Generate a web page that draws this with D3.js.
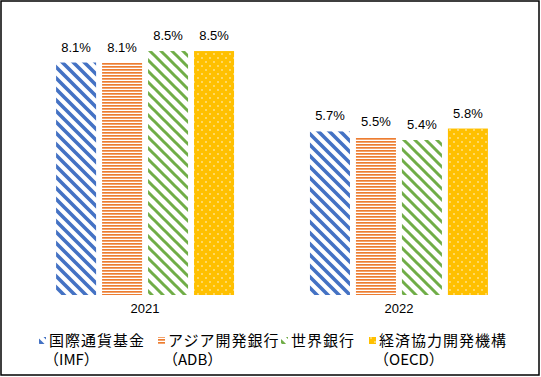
<!DOCTYPE html>
<html>
<head>
<meta charset="utf-8">
<script src="https://cdn.jsdelivr.net/npm/d3@7"></script>
<style>
    body { margin: 0; background: #fff; }
    .label { font-family: "Liberation Sans", Arial, sans-serif; font-size: 13px; fill: #000; }
    .legend-text { font-family: "Noto Sans CJK JP", sans-serif; font-size: 15px; fill: #000; }
</style>
</head>
<body>
<div id="chart"></div>
<script>
// data
const years = ["2021", "2022"];
const series = ["国際通貨基金", "アジア開発銀行", "世界銀行", "経済協力開発機構"];
const seriesSub = ["（IMF）", "（ADB）", "", "（OECD）"];
const values2021 = [8.1, 8.1, 8.5, 8.5];
const values2022 = [5.7, 5.5, 5.4, 5.8];
const colors = ["#4472C4", "#ED7D31", "#70AD47", "#FFC000"];

const W = 541, H = 377;
const data = [];
years.forEach((yr, i) => {
    const vals = i === 0 ? values2021 : values2022;
    series.forEach((s, j) => data.push({year: yr, idx: j, value: vals[j]}));
});

const svg = d3.select("#chart").append("svg")
    .attr("width", W)
    .attr("height", H);

// patterns
const defs = svg.append("defs");

// blue: wide downward diagonal
let p = defs.append("pattern").attr("id", "pat0")
    .attr("patternUnits", "userSpaceOnUse").attr("width", 11).attr("height", 11);
p.append("rect").attr("width", 11).attr("height", 11).attr("fill", "#fff");
p.append("path").attr("d", "M-3,-3L14,14M-3,8L3,14M8,-3L14,3")
    .attr("stroke", colors[0]).attr("stroke-width", 3.6);

// orange: horizontal lines
p = defs.append("pattern").attr("id", "pat1")
    .attr("patternUnits", "userSpaceOnUse").attr("width", 6).attr("height", 3);
p.append("rect").attr("width", 6).attr("height", 3).attr("fill", "#fff");
p.append("rect").attr("y", 0).attr("width", 6).attr("height", 1.7).attr("fill", colors[1]);

// green: downward diagonal
p = defs.append("pattern").attr("id", "pat2")
    .attr("patternUnits", "userSpaceOnUse").attr("width", 11).attr("height", 11);
p.append("rect").attr("width", 11).attr("height", 11).attr("fill", "#fff");
p.append("path").attr("d", "M-3,-3L14,14M-3,8L3,14M8,-3L14,3")
    .attr("stroke", colors[2]).attr("stroke-width", 3);

// yellow: dotted
p = defs.append("pattern").attr("id", "pat3")
    .attr("patternUnits", "userSpaceOnUse").attr("width", 8).attr("height", 8);
p.append("rect").attr("width", 8).attr("height", 8).attr("fill", colors[3]);
p.append("circle").attr("cx", 2).attr("cy", 2).attr("r", 0.8).attr("fill", "#fff8e0");
p.append("circle").attr("cx", 6).attr("cy", 6).attr("r", 0.8).attr("fill", "#fff8e0");

// frame
svg.append("rect")
    .attr("x", 1).attr("y", 1)
    .attr("width", W - 3).attr("height", H - 3)
    .attr("fill", "#fff")
    .attr("stroke", "#000")
    .attr("stroke-width", 1.5);

// scales
const x0 = d3.scaleBand()
    .domain(years)
    .range([18, 526])
    .paddingInner(0.299)
    .paddingOuter(0.15);

const x1 = d3.scaleBand()
    .domain(d3.range(series.length))
    .range([0, x0.bandwidth()])
    .paddingInner(0.13)
    .paddingOuter(0);

const y = d3.scaleLinear()
    .domain([0, 9])
    .range([295, 36.7]);

// bars
const g = svg.append("g");
g.selectAll(".bar")
    .data(data)
    .enter()
    .append("rect")
    .attr("class", "bar")
    .attr("x", d => x0(d.year) + x1(d.idx))
    .attr("y", d => y(d.value))
    .attr("width", x1.bandwidth())
    .attr("height", d => y(0) - y(d.value))
    .attr("fill", d => "url(#pat" + d.idx + ")");

// value labels
g.selectAll(".label")
    .data(data)
    .enter()
    .append("text")
    .attr("class", "label")
    .attr("x", d => x0(d.year) + x1(d.idx) + x1.bandwidth() / 2)
    .attr("y", d => y(d.value) - 11)
    .attr("text-anchor", "middle")
    .text(d => d.value.toFixed(1) + "%");

// category labels
const xAxis = d3.axisBottom(x0).tickSize(0).tickPadding(9);
const ax = svg.append("g")
    .attr("transform", "translate(0," + y(0) + ")")
    .call(xAxis);
ax.select(".domain").remove();
ax.selectAll("text")
    .attr("class", "label")
    .attr("font-family", null)
    .attr("font-size", null);

// legend
const legendX = [39, 158, 281, 369];
const legend = svg.append("g");
series.forEach((s, i) => {
    const lg = legend.append("g").attr("transform", "translate(" + legendX[i] + ",0)");
    lg.append("rect")
        .attr("x", 0).attr("y", 337)
        .attr("width", 7).attr("height", 7)
        .attr("fill", "url(#pat" + i + ")");
    lg.append("text")
        .attr("class", "legend-text")
        .attr("x", 10).attr("y", 346)
        .attr("letter-spacing", 1)
        .text(s);
    if (seriesSub[i]) {
        lg.append("text")
            .attr("class", "legend-text")
            .attr("x", 5).attr("y", 365)
            .text(seriesSub[i]);
    }
});
</script>
</body>
</html>
